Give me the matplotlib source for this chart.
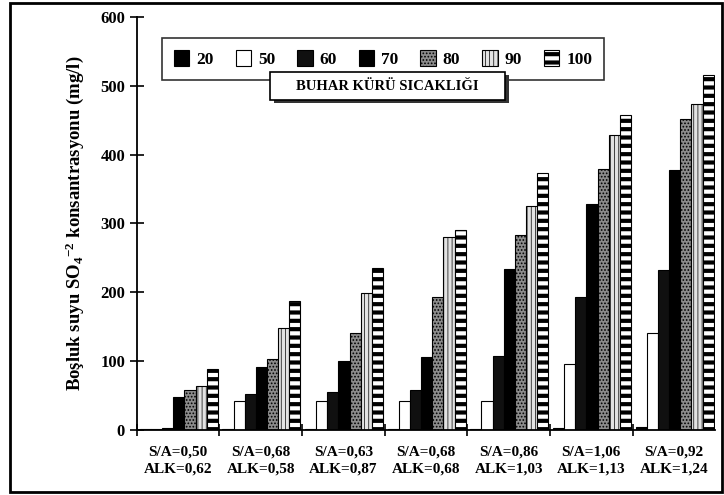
import matplotlib.pyplot as plt
import matplotlib.patches as mpatches
import numpy as np

groups = ['S/A=0,50\nALK=0,62', 'S/A=0,68\nALK=0,58', 'S/A=0,63\nALK=0,87',
          'S/A=0,68\nALK=0,68', 'S/A=0,86\nALK=1,03', 'S/A=1,06\nALK=1,13',
          'S/A=0,92\nALK=1,24']
temps = ['20', '50', '60', '70', '80', '90', '100']
t20 = [1, 1, 2, 2, 1, 3, 5]
t50 = [1, 43, 42, 43, 43, 96, 141]
t60 = [3, 52, 56, 58, 108, 193, 232]
t70 = [48, 92, 101, 106, 234, 328, 377]
t80 = [58, 104, 141, 193, 284, 379, 452]
t90 = [64, 148, 199, 280, 326, 428, 473]
t100 = [89, 188, 235, 290, 374, 457, 515]
series = [t20, t50, t60, t70, t80, t90, t100]

styles = [
    dict(facecolor='black', hatch=None, hlw=1.0),
    dict(facecolor='white', hatch=None, hlw=1.0),
    dict(facecolor='#101010', hatch=None, hlw=1.0),
    dict(facecolor='black', hatch=None, hlw=1.0),
    dict(facecolor='#8c8c8c', hatch='.....', hlw=0.8),
    dict(facecolor='#e2e2e2', hatch='||||', hlw=0.5),
    dict(facecolor='white', hatch='--', hlw=3.0),
]

plt.rcParams['font.family'] = 'Liberation Serif'
plt.rcParams['font.weight'] = 'bold'
plt.rcParams['mathtext.default'] = 'regular'

fig = plt.figure(figsize=(7.24, 4.95), dpi=100)
ax = fig.add_axes([0.189, 0.131, 0.799, 0.835])

x = np.arange(len(groups))
w = 0.135
for k, (vals, st) in enumerate(zip(series, styles)):
    plt.rcParams['hatch.linewidth'] = st['hlw']
    ax.bar(x + 0.035 + k * w, vals, w, align='edge', facecolor=st['facecolor'],
           edgecolor='black', linewidth=0.8, hatch=st['hatch'], label=temps[k])

ax.set_xlim(0, 7)
ax.set_ylim(0, 600)
ax.set_yticks(range(0, 601, 100))
ax.set_xticks(range(0, 7))
ax.set_xticklabels([])
ax.set_xticks(x + 0.5, minor=True)
ax.set_xticklabels(groups, minor=True, fontsize=11, fontweight='bold', linespacing=1.45)
ax.tick_params(axis='x', which='minor', length=0, pad=11)
ax.tick_params(axis='x', which='major', direction='inout', length=8, width=1.2)
ax.tick_params(axis='y', direction='inout', length=10, width=1.2, labelsize=12)
for lab in ax.get_yticklabels():
    lab.set_fontweight('bold')
for s in ['top', 'right']:
    ax.spines[s].set_visible(False)
ax.spines['left'].set_linewidth(1.3)
ax.spines['bottom'].set_linewidth(1.3)

ax.set_ylabel('Boşluk suyu SO$_4$$^{-2}$ konsantrasyonu (mg/l)',
              fontsize=13.5, fontweight='bold', labelpad=10)

leg = ax.legend(ncol=7, loc='upper left', bbox_to_anchor=(0.028, 0.97),
                frameon=True, fancybox=False, edgecolor='black',
                prop={'weight': 'bold', 'size': 12.5}, handlelength=0.9,
                handleheight=1.0, columnspacing=1.25, handletextpad=0.4,
                borderpad=0.7)
leg.get_frame().set_linewidth(1.2)
for h, st in zip(leg.legend_handles, styles):
    h._hatch_linewidth = st['hlw']

# title box with shadow
fig.patches.append(mpatches.Rectangle((274 / 724, 1 - 103 / 495), 235 / 724, 28 / 495,
                                      transform=fig.transFigure, facecolor='#333333',
                                      edgecolor='none', zorder=5))
fig.patches.append(mpatches.Rectangle((270 / 724, 1 - 100 / 495), 235 / 724, 28 / 495,
                                      transform=fig.transFigure, facecolor='white',
                                      edgecolor='black', linewidth=1.2, zorder=6))
fig.text(387 / 724, 1 - 86 / 495, 'BUHAR KÜRÜ SICAKLIĞI', ha='center', va='center',
         fontsize=10.5, fontweight='bold', zorder=7)

# outer frame
fig.patches.append(mpatches.Rectangle((10 / 724, 3 / 495), 712 / 724, 489 / 495,
                                      transform=fig.transFigure, fill=False,
                                      edgecolor='black', linewidth=2))

fig.savefig('out.png', dpi=100)
